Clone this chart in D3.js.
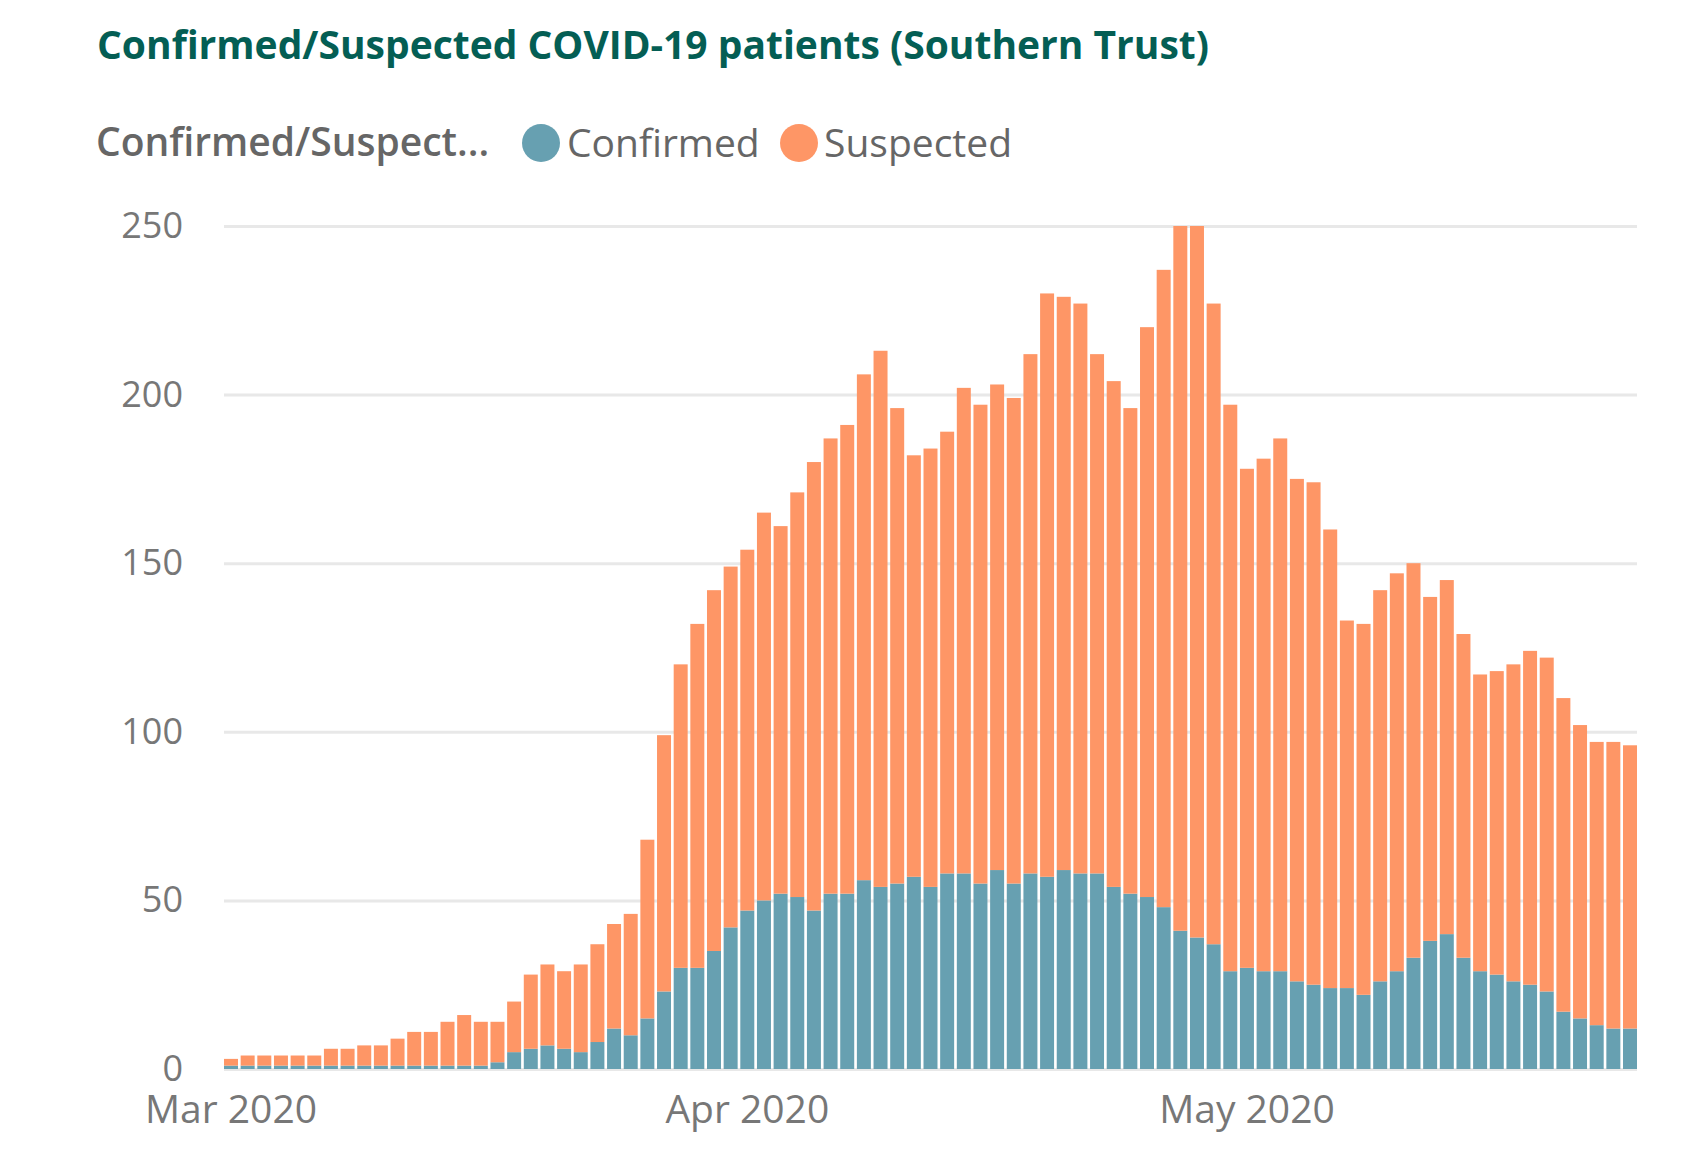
<!DOCTYPE html>
<html>
<head>
<meta charset="utf-8">
<script src="https://cdn.jsdelivr.net/npm/d3@7"></script>
<style>
  html, body { margin: 0; padding: 0; background: #fff; }
  svg { display: block; font-family: 'Open Sans', 'Segoe UI', sans-serif; }
</style>
</head>
<body>
<div id="chart"></div>
<script>
// daily counts, 1 Mar 2020 .. 24 May 2020
const startDate = new Date(2020, 2, 1);
const endDate = new Date(2020, 4, 25);

const confirmed = [
  1, 1, 1, 1, 1, 1, 1, 1, 1, 1,
  1, 1, 1, 1, 1, 1, 2, 5, 6, 7,
  6, 5, 8, 12, 10, 15, 23, 30, 30, 35,
  42, 47, 50, 52, 51, 47, 52, 52, 56, 54,
  55, 57, 54, 58, 58, 55, 59, 55, 58, 57,
  59, 58, 58, 54, 52, 51, 48, 41, 39, 37,
  29, 30, 29, 29, 26, 25, 24, 24, 22, 26,
  29, 33, 38, 40, 33, 29, 28, 26, 25, 23,
  17, 15, 13, 12, 12
];

const suspected = [
  2, 3, 3, 3, 3, 3, 5, 5, 6, 6,
  8, 10, 10, 13, 15, 13, 12, 15, 22, 24,
  23, 26, 29, 31, 36, 53, 76, 90, 102, 107,
  107, 107, 115, 109, 120, 133, 135, 139, 150, 159,
  141, 125, 130, 131, 144, 142, 144, 144, 154, 173,
  170, 169, 154, 150, 144, 169, 189, 209, 211, 190,
  168, 148, 152, 158, 149, 149, 136, 109, 110, 116,
  118, 117, 102, 105, 96, 88, 90, 94, 99, 99,
  93, 87, 84, 85, 84
];

const seriesKeys = ['Confirmed', 'Suspected'];
const seriesColors = ['#67a0b1', '#fe9666'];
const yTicks = [0, 50, 100, 150, 200, 250];
const monthTicks = [new Date(2020, 2, 1), new Date(2020, 3, 1), new Date(2020, 4, 1)];

const width = 1690, height = 1168;
const margin = { left: 224, right: 53, top: 226, bottom: 99 };

const dates = d3.timeDay.range(startDate, endDate);
const rows = dates.map((d, i) => ({ date: d, Confirmed: confirmed[i], Suspected: suspected[i] }));

const svg = d3.select('#chart')
  .append('svg')
  .attr('width', width)
  .attr('height', height);

const x = d3.scaleBand()
  .domain(dates.map(d => +d))
  .range([margin.left, width - margin.right])
  .paddingInner(0.16)
  .paddingOuter(0);

const y = d3.scaleLinear()
  .domain([0, 250])
  .range([height - margin.bottom, margin.top]);

const color = d3.scaleOrdinal().domain(seriesKeys).range(seriesColors);

// title
svg.append('text')
  .attr('x', 97)
  .attr('y', 59)
  .attr('fill', '#045e54')
  .attr('font-size', '39px')
  .attr('font-weight', 700)
  .text('Confirmed/Suspected COVID-19 patients (Southern Trust)');

// legend
const legend = svg.append('g').attr('class', 'legend');
legend.append('text')
  .attr('x', 96)
  .attr('y', 156)
  .attr('fill', '#666')
  .attr('font-size', '39px')
  .attr('font-weight', 600)
  .text('Confirmed/Suspect...');

const legendItems = [
  { key: 'Confirmed', cx: 541, tx: 567 },
  { key: 'Suspected', cx: 799, tx: 824 }
];
legendItems.forEach(item => {
  legend.append('circle')
    .attr('cx', item.cx)
    .attr('cy', 143)
    .attr('r', 19)
    .attr('fill', color(item.key));
  legend.append('text')
    .attr('x', item.tx)
    .attr('y', 157)
    .attr('fill', '#666')
    .attr('font-size', '39px')
    .text(item.key);
});

// gridlines
svg.append('g')
  .attr('class', 'grid')
  .attr('transform', `translate(${margin.left},0)`)
  .call(d3.axisLeft(y).tickValues(yTicks).tickSize(-(width - margin.right - margin.left)).tickFormat(''))
  .call(g => g.select('.domain').remove())
  .call(g => g.selectAll('line').attr('stroke', '#e8e8e8').attr('stroke-width', 3));

// y labels
svg.append('g')
  .attr('class', 'y-axis')
  .attr('transform', 'translate(183,0)')
  .call(d3.axisLeft(y).tickValues(yTicks).tickSize(0).tickPadding(0))
  .call(g => g.select('.domain').remove())
  .call(g => g.selectAll('text')
    .attr('fill', '#777')
    .attr('font-size', '36px')
    .attr('font-family', "'Open Sans', 'Segoe UI', sans-serif"));

// bars
const stacked = d3.stack().keys(seriesKeys)(rows);

svg.append('g')
  .attr('class', 'bars')
  .selectAll('g')
  .data(stacked)
  .join('g')
  .attr('fill', d => color(d.key))
  .selectAll('rect')
  .data(d => d)
  .join('rect')
  .attr('x', d => x(+d.data.date))
  .attr('width', x.bandwidth())
  .attr('y', d => y(d[1]))
  .attr('height', d => y(d[0]) - y(d[1]));

// x labels
svg.append('g')
  .attr('class', 'x-axis')
  .attr('transform', `translate(0,${height - margin.bottom})`)
  .call(d3.axisBottom(x)
    .tickValues(monthTicks.map(d => +d))
    .tickSize(0)
    .tickPadding(26)
    .tickFormat(d => d3.timeFormat('%b %Y')(new Date(d))))
  .call(g => g.select('.domain').remove())
  .call(g => g.selectAll('text')
    .attr('fill', '#777')
    .attr('font-size', '39px')
    .attr('font-family', "'Open Sans', 'Segoe UI', sans-serif"));
</script>
</body>
</html>
